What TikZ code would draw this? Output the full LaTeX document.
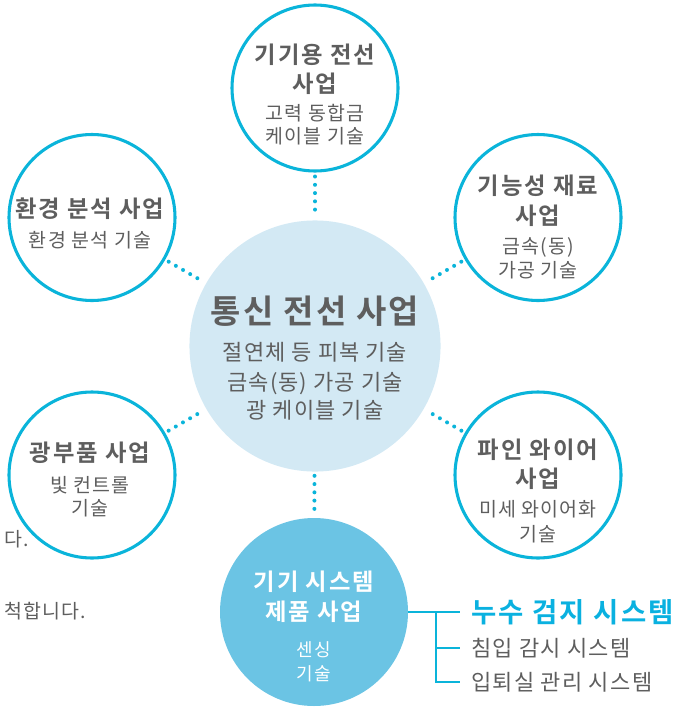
\documentclass[tikz,border=0pt]{standalone}
\usepackage{fontspec}
\setmainfont{Noto Sans CJK KR}[BoldFont={Noto Sans CJK KR Bold}]
\usepackage{xcolor}
\usetikzlibrary{positioning,calc}

\definecolor{bizcyan}{HTML}{0AB4DA}
\definecolor{corefill}{HTML}{D3E9F4}
\definecolor{sysfill}{HTML}{6BC4E4}
\definecolor{txtgray}{HTML}{5E5E5E}
\definecolor{leakcyan}{HTML}{0AB1E0}

\tikzset{
  bizcircle/.style={circle,draw=bizcyan,line width=2.3pt,fill=white,inner sep=0pt,minimum size=124.5pt},
  dotlink/.style={draw=bizcyan,line width=3pt,line cap=round,dash pattern=on 0pt off 6.2pt,shorten <=3pt,shorten >=3pt},
  bracket/.style={draw=bizcyan,line width=2pt},
  bigtitle/.style={text=txtgray,inner sep=0pt,text height=18.5pt,text depth=0pt,font=\fontsize{24.7pt}{28pt}\selectfont\bfseries\addfontfeature{LetterSpace=7}},
  bigsub/.style={text=txtgray,inner sep=0pt,text height=12.4pt,text depth=0pt,font=\fontsize{16.5pt}{19pt}\selectfont\addfontfeature{LetterSpace=5}},
  title/.style={text=txtgray,inner sep=0pt,text height=13.1pt,text depth=0pt,font=\fontsize{17.5pt}{20pt}\selectfont\bfseries\addfontfeature{LetterSpace=8}},
  sub/.style={text=txtgray,inner sep=0pt,text height=11pt,text depth=0pt,font=\fontsize{14.6pt}{17pt}\selectfont\addfontfeature{LetterSpace=6}},
  listitem/.style={text=txtgray,anchor=west,inner sep=0pt,text height=12.4pt,text depth=0pt,font=\fontsize{16.5pt}{19pt}\selectfont\addfontfeature{LetterSpace=6}},
}

\begin{document}
\begin{tikzpicture}[x=0.75pt,y=-0.75pt]
\useasboundingbox (0,0) rectangle (690,707);
%%% circles
\node[circle,fill=corefill,inner sep=0pt,minimum size=188.3pt] (core) at (315,346) {};
\node[circle,fill=sysfill,inner sep=0pt,minimum size=141pt] (sys) at (314,612) {};
\node[bizcircle] (cable) at (315,88) {};
\node[bizcircle] (envi) at (92,217.5) {};
\node[bizcircle] (func) at (538,217.5) {};
\node[bizcircle] (optic) at (92,475) {};
\node[bizcircle] (fine) at (538,475) {};
%% dotted links
\draw[dotlink] (cable) -- (core);
\draw[dotlink] (envi) -- (core);
\draw[dotlink] (func) -- (core);
\draw[dotlink] (optic) -- (core);
\draw[dotlink] (fine) -- (core);
\draw[dotlink] (core) -- (sys);
%% core texts
\node[bigtitle] (core-t) at (315,311) {통신 전선 사업};
\node[bigsub] (core-a) at (315,352) {절연체 등 피복 기술};
\node[bigsub] (core-b) at (315,382) {금속(동) 가공 기술};
\node[bigsub] (core-c) at (315,410) {광 케이블 기술};
%% top
\node[title] (cable-t) at (315,55) {기기용 전선};
\node[title] (cable-u) at (315,84) {사업};
\node[sub] (cable-a) at (315,113) {고력 동합금};
\node[sub] (cable-b) at (315,136) {케이블 기술};
%% upper left
\node[title] (envi-t) at (90,209) {환경 분석 사업};
\node[sub] (envi-a) at (90,240) {환경 분석 기술};
%% upper right
\node[title] (func-t) at (538,186) {기능성 재료};
\node[title] (func-u) at (538,215.5) {사업};
\node[sub] (func-a) at (538,246) {금속(동)};
\node[sub] (func-b) at (538,270) {가공 기술};
%% lower left
\node[title] (optic-t) at (90,453) {광부품 사업};
\node[sub] (optic-a) at (90,485) {빛 컨트롤};
\node[sub] (optic-b) at (90,508.5) {기술};
%% lower right
\node[title] (fine-t) at (538,449.5) {파인 와이어};
\node[title] (fine-u) at (538,479) {사업};
\node[sub] (fine-a) at (538,509.5) {미세 와이어화};
\node[sub] (fine-b) at (538,534) {기술};
%% bottom
\node[title,text=white] (sys-t) at (314,581.5) {기기 시스템};
\node[title,text=white] (sys-u) at (314,612) {제품 사업};
\node[sub,text=white,font=\fontsize{13.5pt}{16pt}\selectfont\addfontfeature{LetterSpace=6}] (sys-a) at (314,649) {센싱};
\node[sub,text=white,font=\fontsize{13.5pt}{16pt}\selectfont\addfontfeature{LetterSpace=6}] (sys-b) at (314,673) {기술};
%%% system list
\node[listitem,text=leakcyan,text height=15.4pt,font=\fontsize{20.6pt}{24pt}\selectfont\bfseries\addfontfeature{LetterSpace=8}] (leak) at (471,612) {누수 검지 시스템};
\node[listitem] (guard) at (471,648) {침입 감시 시스템};
\node[listitem] (access) at (471,682) {입퇴실 관리 시스템};
\coordinate (trunk) at (436,612);
\draw[bracket] (sys.east) -- ($(leak.west)+(-11,0)$);
\draw[bracket] (trunk) |- ($(guard.west)+(-11,0)$);
\draw[bracket] (trunk) |- ($(access.west)+(-11,0)$);
%% cut text at the left edge
\node[sub,anchor=west] (edge-a) at (4,539) {다.};
\node[sub,anchor=east] (edge-b) at (86,611) {척합니다.};
\end{tikzpicture}
\end{document}
